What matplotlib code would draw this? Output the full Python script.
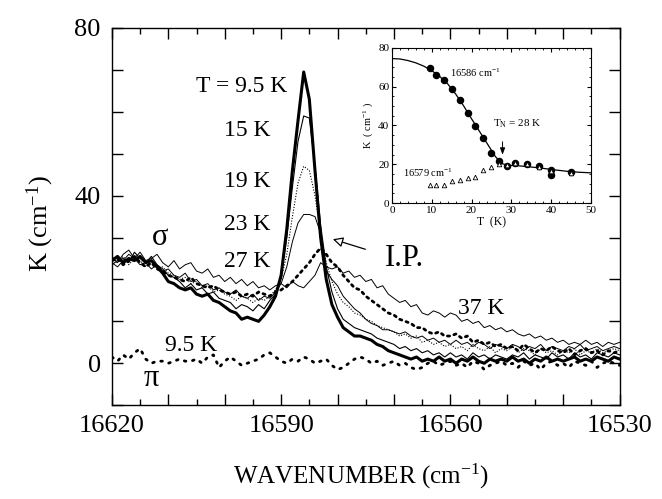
import numpy as np
import matplotlib
matplotlib.use("Agg")
import matplotlib.pyplot as plt
from matplotlib.ticker import MultipleLocator, FuncFormatter

plt.rcParams['font.family'] = ['Liberation Serif', 'DejaVu Serif']
plt.rcParams['mathtext.fontset'] = 'custom'
plt.rcParams['mathtext.rm'] = 'Liberation Serif'
plt.rcParams['mathtext.it'] = 'Liberation Serif:italic'

# =========================
# main spectra (wavenumber grid, 1 cm-1 step)
# =========================
wavenumber = np.arange(16620, 16529, -1)

sig_95 = [24.5, 25.5, 24.0, 25.0, 24.5, 25.5, 24.0, 24.5, 23.0, 21.5,
          19.5, 19.0, 18.0, 17.5, 18.0, 16.5, 16.0, 16.5, 15.0, 14.5,
          13.5, 12.5, 12.0, 10.5, 11.0, 10.5, 10.0, 11.5, 13.5, 16.0,
          21.0, 32.0, 46.0, 58.0, 69.5, 63.0, 46.0, 30.0, 20.0, 14.0,
          11.0, 8.5, 7.5, 6.5, 6.5, 6.0, 5.5, 4.5, 4.0, 3.0,
          2.5, 2.0, 1.5, 1.0, 1.5, 0.5, 1.0, 0.5, 1.5, 0.5,
          1.0, 0.0, 1.0, 0.5, 1.5, 0.5, 0.0, 1.0, 0.5, 1.0,
          0.5, 1.5, 0.5, 1.0, 0.0, 1.0, 0.5, 1.5, 0.5, 1.0,
          0.5, 1.0, 1.5, 0.5, 1.0, 0.5, 1.5, 1.0, 0.5, 1.5,
          1.0]

sig_15 = [23.5, 24.5, 25.0, 24.0, 26.5, 25.0, 24.0, 25.5, 23.5, 22.5,
          21.0, 20.5, 19.5, 18.0, 19.0, 17.5, 18.0, 16.5, 17.0, 15.5,
          15.0, 14.5, 13.0, 14.0, 13.5, 12.5, 14.0, 13.0, 15.0, 16.5,
          21.0, 30.0, 42.0, 53.0, 59.0, 58.5, 47.0, 33.0, 23.0, 17.0,
          13.0, 10.5, 9.5, 8.5, 8.0, 7.5, 7.0, 6.0, 5.5, 5.0,
          4.5, 3.5, 4.0, 3.0, 3.5, 2.5, 3.0, 2.0, 2.5, 1.5,
          2.5, 1.5, 2.0, 1.0, 2.5, 1.5, 2.0, 1.0, 2.0, 1.5,
          1.0, 2.0, 1.5, 2.5, 1.0, 2.0, 1.5, 1.0, 2.5, 1.5,
          2.0, 1.0, 2.5, 1.5, 2.0, 1.0, 2.5, 2.0, 1.5, 2.5,
          2.0]

sig_19 = [25.0, 24.0, 25.5, 23.5, 25.0, 24.5, 23.0, 24.5, 22.5, 23.0,
          21.5, 21.0, 20.0, 20.5, 19.0, 19.5, 18.0, 18.5, 17.0, 17.5,
          16.5, 16.0, 15.0, 16.0, 15.5, 14.5, 15.5, 15.0, 16.0, 17.5,
          20.0, 26.0, 35.0, 43.0, 47.0, 46.0, 40.0, 31.0, 24.0, 19.5,
          16.5, 14.5, 13.5, 12.0, 11.5, 10.5, 10.0, 9.0, 8.5, 8.0,
          7.5, 6.5, 7.0, 6.0, 6.5, 5.0, 5.5, 4.5, 5.0, 4.0,
          4.5, 3.5, 4.0, 3.0, 4.5, 3.5, 3.0, 4.0, 2.5, 3.5,
          3.0, 4.0, 2.5, 3.5, 3.0, 2.0, 3.5, 2.5, 3.0, 2.0,
          3.0, 2.5, 3.5, 2.0, 3.0, 2.5, 3.5, 2.5, 3.0, 3.5,
          3.0]

sig_23 = [24.0, 23.0, 24.5, 26.0, 25.0, 23.5, 24.0, 22.5, 23.5, 22.0,
          22.5, 21.0, 20.5, 21.5, 19.5, 20.0, 18.5, 19.0, 17.5, 18.0,
          17.0, 16.5, 17.5, 16.0, 15.5, 16.5, 15.0, 16.0, 15.5, 17.0,
          19.0, 23.0, 29.0, 33.5, 35.5, 35.5, 35.0, 31.0, 22.0, 20.0,
          18.5, 16.0, 14.5, 13.0, 12.0, 10.5, 9.5, 9.0, 8.0, 8.0,
          7.5, 7.0, 7.5, 6.5, 6.0, 6.5, 5.5, 6.0, 5.0, 5.5,
          4.5, 5.5, 4.5, 5.0, 4.0, 5.0, 4.5, 3.5, 4.5, 4.0,
          3.5, 4.5, 4.0, 3.0, 4.0, 3.5, 4.5, 3.0, 4.0, 3.5,
          3.0, 4.0, 3.5, 4.5, 3.0, 3.5, 4.0, 3.0, 3.5, 4.0,
          3.5]

sig_27 = [24.5, 25.0, 23.5, 24.5, 25.5, 24.0, 23.0, 24.0, 22.5, 22.0,
          21.0, 20.5, 20.0, 19.5, 20.5, 19.0, 18.5, 18.0, 18.5, 17.5,
          17.0, 16.5, 17.0, 16.0, 16.5, 16.0, 17.0, 16.5, 16.0, 17.0,
          17.5, 18.5, 19.5, 21.0, 22.5, 24.0, 26.0, 27.5, 26.0, 24.0,
          23.0, 21.0, 19.5, 18.0, 17.5, 16.0, 15.0, 14.0, 13.0, 12.0,
          11.5, 10.5, 10.0, 9.5, 8.5, 8.5, 7.5, 7.0, 7.5, 6.5,
          6.5, 7.0, 6.0, 6.5, 5.0, 5.5, 4.5, 5.0, 4.0, 4.5,
          3.5, 4.0, 3.0, 4.5, 3.5, 2.5, 3.5, 3.0, 4.0, 3.0,
          2.5, 3.5, 2.0, 3.0, 3.5, 2.5, 3.0, 2.0, 3.0, 2.5,
          3.0]

sig_37 = [25.5, 24.0, 26.0, 27.0, 25.0, 26.5, 24.5, 25.0, 26.0, 24.0,
          23.0, 24.5, 22.5, 23.5, 24.0, 22.0, 21.5, 22.5, 20.5, 21.0,
          19.5, 20.5, 19.0, 20.0, 18.5, 19.5, 18.0, 18.5, 17.5, 18.5,
          19.0, 18.0, 19.5, 18.5, 18.0, 19.5, 21.0, 24.0, 23.0, 22.5,
          23.0, 21.5, 22.0, 20.5, 21.0, 19.5, 20.0, 18.0, 18.5, 16.5,
          15.5, 14.5, 15.0, 13.5, 14.0, 12.0, 11.5, 12.5, 12.0, 11.0,
          12.0, 11.5, 10.0, 10.5, 9.5, 10.0, 8.5, 9.0, 8.0, 8.5,
          7.5, 8.0, 7.0, 6.5, 7.0, 6.0, 6.5, 5.5, 6.0, 5.0,
          5.5, 4.5, 5.0, 4.5, 5.5, 4.5, 5.0, 4.0, 5.0, 4.5,
          5.0]

pi_95 = [1.5, 0.5, 2.0, 1.0, 2.5, 3.5, 1.0, 0.0, 0.5, 0.5,
         0.0, 0.5, 1.0, 0.5, 0.5, 1.0, 0.0, 1.5, 2.0, -1.0,
         0.5, 1.5, 0.5, -0.5, 0.0, 0.5, 1.0, 2.0, 2.5, 1.5,
         0.5, 0.0, 1.0, 0.5, 1.5, 1.0, 0.0, 0.5, 1.0, -0.5,
         -1.5, -1.0, 0.0, 1.0, 1.5, 1.0, 0.0, 0.5, -0.5, 0.0,
         0.5, -0.5, 0.0, -1.0, -1.5, -1.0, 0.0, 0.5, -0.5, 0.0,
         0.5, -0.5, 0.0, -1.0, 0.5, 0.0, -1.5, -0.5, 0.0, 0.5,
         -0.5, 0.0, -1.0, 0.5, -0.5, 0.0, -1.5, 0.0, 0.5, -0.5,
         0.0, -1.0, 0.5, 0.0, -0.5, 0.5, -1.0, 0.0, 0.5, 0.0,
         -0.5]

# =========================
# inset: peak height vs temperature
# =========================
T_peak = [9.5, 11, 13, 15, 17, 19, 21, 23, 25, 27, 29, 31, 34, 37, 40, 40, 45]
K_peak = [69.6, 65.8, 63.2, 58.9, 53.2, 46.6, 39.9, 33.7, 25.9, 21.8,
          19.3, 20.6, 19.9, 19.2, 17.3, 14.7, 16.1]

T_side = [9.5, 11, 13, 15, 17, 19, 21, 23, 25, 27, 29, 31, 34, 37, 40, 45]
K_side = [9.2, 9.5, 9.5, 11.2, 11.7, 13.0, 13.5, 16.9, 18.7, 19.9,
          19.5, 20.5, 20.3, 18.8, 16.8, 15.7]

T_fit = [0, 2, 4, 6, 8, 10, 12, 14, 16, 18, 20, 22, 24, 26, 27.5,
         29, 32, 35, 38, 41, 44, 47, 50]
K_fit = [74.5, 74.3, 73.5, 72.3, 70.6, 68.3, 65.3, 61.5, 56.3, 50.2, 43.5,
         37.0, 30.5, 24.0, 20.5, 19.5, 19.2, 18.6, 17.9, 17.1, 16.4, 15.9, 15.6]

# =========================
# figure
# =========================
fig = plt.figure(figsize=(6.62, 4.99), dpi=100)
ax = fig.add_axes([0.169, 0.188, 0.767, 0.756])

ax.plot(wavenumber, sig_37, color="black", lw=0.7)
ax.plot(wavenumber, sig_23, color="black", lw=0.7)
ax.plot(wavenumber, sig_19, color="black", lw=0.8, ls=(0, (1, 1.5)))
ax.plot(wavenumber, sig_15, color="black", lw=0.8)
ax.plot(wavenumber, sig_27, color="black", lw=2.0, ls=(0, (0.8, 1.6)),
        dash_capstyle="round")
ax.plot(wavenumber, sig_95, color="black", lw=2.2)
ax.plot(wavenumber, pi_95, color="black", lw=2.0, ls=(0, (0.6, 2.4)),
        dash_capstyle="round")

ax.set_xlim(16620, 16530)
ax.set_ylim(-10, 80)

ax.xaxis.set_major_locator(MultipleLocator(10))
ax.xaxis.set_minor_locator(MultipleLocator(5))
ax.xaxis.set_major_formatter(FuncFormatter(
    lambda v, p: f"{v:.0f}" if round(v) % 30 == 0 else ""))
ax.yaxis.set_major_locator(MultipleLocator(10))
ax.yaxis.set_major_formatter(FuncFormatter(
    lambda v, p: f"{v:.0f}" if round(v) % 40 == 0 else ""))

ax.tick_params(which="both", direction="in", top=True, right=True,
               labelsize=19, width=1.0)
ax.tick_params(which="major", length=8)
ax.tick_params(which="minor", length=4)
ax.tick_params(axis="x", pad=7)
ax.tick_params(axis="y", pad=8)
for s in ax.spines.values():
    s.set_linewidth(1.0)

ax.set_xlabel("WAVENUMBER (cm$^{\\mathregular{-1}}$)", fontsize=18)
ax.xaxis.set_label_coords(0.49, -0.15)
ax.set_ylabel("K (cm$^{\\mathregular{-1}}$)", fontsize=19)
ax.yaxis.set_label_coords(-0.11, 0.48)

# curve labels
lab_kw = dict(fontsize=17, ha="right", va="center")
ax.text(16588.9, 66, "T = 9.5 K", **lab_kw)
ax.text(16591.9, 55.5, "15 K", **lab_kw)
ax.text(16591.9, 43.3, "19 K", **lab_kw)
ax.text(16591.9, 33.1, "23 K", **lab_kw)
ax.text(16591.9, 24.3, "27 K", **lab_kw)
ax.text(16554.6, 13.1, "37 K", fontsize=17, ha="center", va="center")
ax.text(16606.0, 4.3, "9.5 K", fontsize=17, ha="center", va="center")
ax.text(16611.5, 30, "σ", fontsize=22, ha="center", va="center")
ax.text(16613.0, -3.6, "π", fontsize=22, ha="center", va="center")
ax.text(16571.6, 25, "I.P.", fontsize=22, ha="left", va="center")
ax.annotate("", xy=(16581.3, 29.8), xytext=(16574.6, 27),
            arrowprops=dict(arrowstyle="-|>,head_length=0.6,head_width=0.3",
                            fc="white", ec="black", lw=0.9))

# =========================
# inset
# =========================
ins = fig.add_axes([0.592, 0.593, 0.3006, 0.311])
ins.plot(T_fit, K_fit, color="black", lw=0.9)
ins.plot(T_peak, K_peak, "o", color="black", ms=4.4)
ins.plot(T_side, K_side, "^", mfc="white", mec="black", mew=0.6, ms=3.3)

ins.set_xlim(0, 50)
ins.set_ylim(0, 80)
ins.xaxis.set_major_locator(MultipleLocator(10))
ins.xaxis.set_minor_locator(MultipleLocator(2))
ins.yaxis.set_major_locator(MultipleLocator(20))
ins.yaxis.set_minor_locator(MultipleLocator(5))
ins.tick_params(which="both", direction="in", top=True, right=True,
                labelsize=8, pad=2)
ins.tick_params(which="major", length=3)
ins.tick_params(which="minor", length=1.5)
ins.set_xlabel("T  (K)", fontsize=8.5, labelpad=1)
ins.set_ylabel("K  ( cm$^{\\mathregular{-1}}$ )", fontsize=7.5, labelpad=2)

ins.text(14.5, 67, "16586 cm$^{\\mathregular{-1}}$", fontsize=7.5,
         ha="left", va="center")
ins.text(25.5, 41, "T$_{\\mathregular{N}}$ = 28 K", fontsize=8,
         ha="left", va="center")
ins.text(2.8, 15.5, "16579 cm$^{\\mathregular{-1}}$", fontsize=7.5,
         ha="left", va="center")
ins.annotate("", xy=(27.8, 23.5), xytext=(27.8, 33),
             arrowprops=dict(arrowstyle="-|>,head_length=0.4,head_width=0.15",
                             fc="black", ec="black", lw=0.7))

fig.savefig("out.png", dpi=100)
